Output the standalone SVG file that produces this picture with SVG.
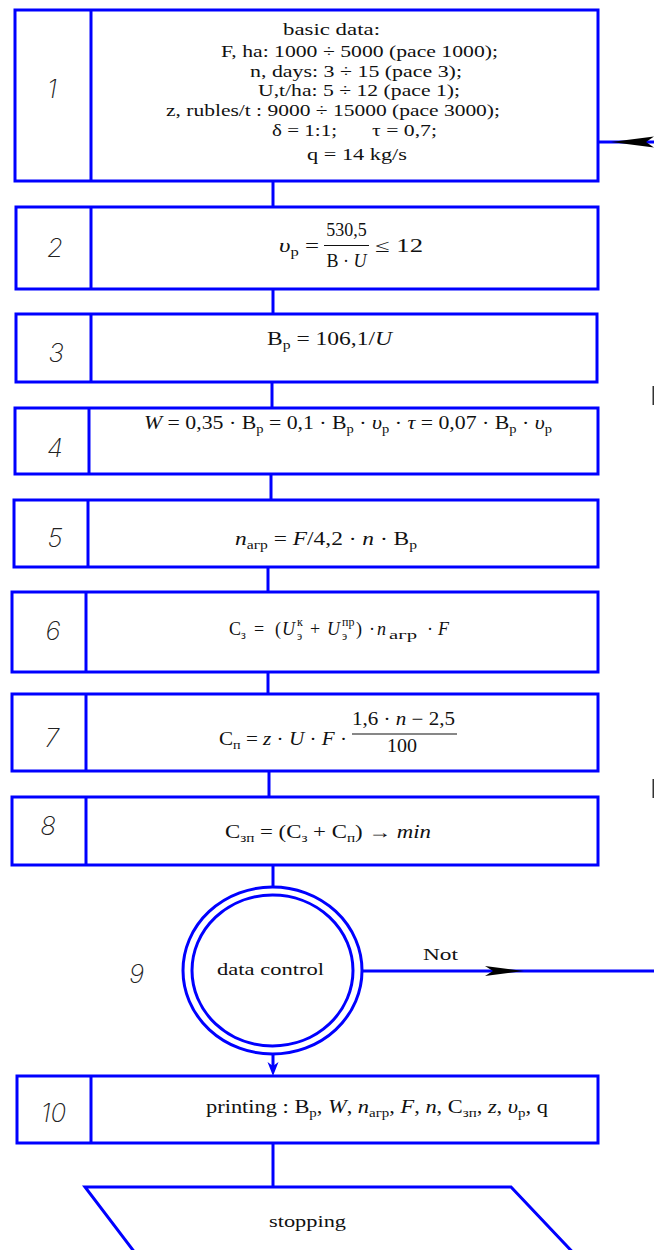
<svg xmlns="http://www.w3.org/2000/svg" width="654" height="1250" viewBox="0 0 654 1250">
<style>
.box{fill:#fff;stroke:#0000ff;stroke-width:3}
.conn{stroke:#0000ff;stroke-width:3;fill:none}
.num{font-family:Inter,"Open Sans","DejaVu Sans",sans-serif;font-style:italic;font-weight:200;font-size:26px;fill:#222;text-anchor:middle}
.t{font-family:"Liberation Serif",serif;font-size:17px;fill:#111}
.m{font-family:"Liberation Serif",serif;font-size:18px;fill:#111}
.i{font-style:italic}
.s{font-size:12px}
.bar{stroke:#111;stroke-width:1.2}
.ah{fill:#000}
</style>
<rect width="654" height="1250" fill="#fff"/>
<g id="connectors">
<line class="conn" x1="273" y1="181" x2="273" y2="207"/>
<line class="conn" x1="273" y1="289" x2="273" y2="314"/>
<line class="conn" x1="272" y1="382" x2="272" y2="408"/>
<line class="conn" x1="271" y1="474" x2="271" y2="500"/>
<line class="conn" x1="268" y1="567" x2="268" y2="592"/>
<line class="conn" x1="268" y1="672" x2="268" y2="694"/>
<line class="conn" x1="269" y1="771" x2="269" y2="797"/>
<line class="conn" x1="273" y1="865" x2="273" y2="887"/>
<line class="conn" x1="273" y1="1054" x2="273" y2="1070"/>
<path d="M273,1076 L267.5,1062 L273,1066 L278.5,1062 Z" fill="#0000ff"/>
<line class="conn" x1="273" y1="1143" x2="273" y2="1187"/>
<line class="conn" x1="362" y1="971" x2="654" y2="971"/>
<path class="ah" d="M524,971 L485,966 L493,971 L485,976 Z"/>
<text x="423" y="960" class="t" font-size="20" textLength="35" lengthAdjust="spacingAndGlyphs">Not</text>
<line class="conn" x1="598" y1="142" x2="654" y2="142"/>
<path class="ah" d="M611,142 L654,136.5 L646,142 L654,147.5 Z"/>
<rect x="652.5" y="386" width="1.5" height="19" fill="#333"/>
<rect x="652.5" y="779" width="1.5" height="19" fill="#333"/>
</g>
<g id="node1">
<rect class="box" x="15" y="10" width="583" height="171"/>
<line class="box" x1="91" y1="10" x2="91" y2="181"/>
<text class="num" x="52" y="98">1</text>
<text class="t" x="283" y="35" textLength="97" lengthAdjust="spacingAndGlyphs">basic data:</text>
<text class="t" x="221" y="57" textLength="277" lengthAdjust="spacingAndGlyphs">F, ha: 1000 ÷ 5000 (pace 1000);</text>
<text class="t" x="250" y="77" textLength="212" lengthAdjust="spacingAndGlyphs">n, days: 3 ÷ 15 (pace 3);</text>
<text class="t" x="258" y="96" textLength="202" lengthAdjust="spacingAndGlyphs">U,t/ha: 5 ÷ 12 (pace 1);</text>
<text class="t" x="166" y="116" textLength="334" lengthAdjust="spacingAndGlyphs">z, rubles/t : 9000 ÷ 15000 (pace 3000);</text>
<text class="t" x="272" y="136" textLength="65" lengthAdjust="spacingAndGlyphs">δ = 1:1;</text>
<text class="t" x="372" y="136" textLength="65" lengthAdjust="spacingAndGlyphs">τ = 0,7;</text>
<text class="t" x="307" y="160" textLength="100" lengthAdjust="spacingAndGlyphs">q = 14 kg/s</text>
</g>
<g id="node2">
<rect class="box" x="16" y="207" width="582" height="82"/>
<line class="box" x1="91" y1="207" x2="91" y2="289"/>
<text class="num" x="55" y="257">2</text>
<text class="m" x="279" y="252" textLength="40" lengthAdjust="spacingAndGlyphs"><tspan class="i">υ</tspan><tspan class="s" dy="4">р</tspan><tspan dy="-4"> =</tspan></text>
<line class="bar" x1="324" y1="245.5" x2="369" y2="245.5"/>
<text class="m" x="346.5" y="236" text-anchor="middle">530,5</text>
<text class="m" x="346.5" y="266.5" text-anchor="middle">В · <tspan class="i">U</tspan></text>
<text class="m" x="375" y="252" textLength="48" lengthAdjust="spacingAndGlyphs">≤ 12</text>
</g>
<g id="node3">
<rect class="box" x="16" y="314" width="581" height="68"/>
<line class="box" x1="91" y1="314" x2="91" y2="382"/>
<text class="num" x="56" y="362">3</text>
<text class="m" x="267" y="344.5" textLength="125" lengthAdjust="spacingAndGlyphs">В<tspan class="s" dy="4">р</tspan><tspan dy="-4"> = 106,1/</tspan><tspan class="i">U</tspan></text>
</g>
<g id="node4">
<rect class="box" x="15" y="408" width="583" height="66"/>
<line class="box" x1="89" y1="408" x2="89" y2="474"/>
<text class="num" x="55" y="457">4</text>
<text class="m" x="144" y="428.5" textLength="408" lengthAdjust="spacingAndGlyphs"><tspan class="i">W</tspan> = 0,35 · В<tspan class="s" dy="4">р</tspan><tspan dy="-4"> = 0,1 · В</tspan><tspan class="s" dy="4">р</tspan><tspan dy="-4"> · </tspan><tspan class="i">υ</tspan><tspan class="s" dy="4">р</tspan><tspan dy="-4"> · </tspan><tspan class="i">τ</tspan> = 0,07 · В<tspan class="s" dy="4">р</tspan><tspan dy="-4"> · </tspan><tspan class="i">υ</tspan><tspan class="s" dy="4">р</tspan></text>
</g>
<g id="node5">
<rect class="box" x="14" y="500" width="584" height="67"/>
<line class="box" x1="88" y1="500" x2="88" y2="567"/>
<text class="num" x="55" y="547">5</text>
<text class="m" x="235" y="545" textLength="182" lengthAdjust="spacingAndGlyphs"><tspan class="i">n</tspan><tspan class="s" dy="4">агр</tspan><tspan dy="-4"> = </tspan><tspan class="i">F</tspan>/4,2 · <tspan class="i">n</tspan> · В<tspan class="s" dy="4">р</tspan></text>
</g>
<g id="node6">
<rect class="box" x="12" y="592" width="586" height="80"/>
<line class="box" x1="86" y1="592" x2="86" y2="672"/>
<text class="num" x="53" y="640">6</text>
<text class="m" y="635"><tspan x="229">С</tspan><tspan class="s" x="241" y="639">з</tspan><tspan x="254" y="635">=</tspan><tspan x="275">(</tspan><tspan class="i" x="282">U</tspan><tspan class="s" x="297" y="640">э</tspan><tspan class="s" x="297" y="626">к</tspan><tspan x="310" y="635">+</tspan><tspan class="i" x="327">U</tspan><tspan class="s" x="342" y="640">э</tspan><tspan class="s" x="342" y="626">пр</tspan><tspan x="356" y="635">)</tspan><tspan x="369">·</tspan><tspan class="i" x="377">n</tspan></text>
<text class="m" x="389" y="639" style="font-size:13px" textLength="28" lengthAdjust="spacingAndGlyphs">агр</text>
<text class="m" y="635"><tspan x="427">·</tspan><tspan class="i" x="438">F</tspan></text>
</g>
<g id="node7">
<rect class="box" x="12" y="694" width="586" height="77"/>
<line class="box" x1="86" y1="694" x2="86" y2="771"/>
<text class="num" x="52" y="747">7</text>
<text class="m" x="219" y="745" textLength="128" lengthAdjust="spacingAndGlyphs">С<tspan class="s" dy="4">п</tspan><tspan dy="-4"> = </tspan><tspan class="i">z</tspan> · <tspan class="i">U</tspan> · <tspan class="i">F</tspan> ·</text>
<line class="bar" x1="352" y1="734" x2="457" y2="734"/>
<text class="m" x="352" y="725" textLength="103" lengthAdjust="spacingAndGlyphs">1,6 · <tspan class="i">n</tspan> − 2,5</text>
<text class="m" x="387" y="752" textLength="30" lengthAdjust="spacingAndGlyphs">100</text>
</g>
<g id="node8">
<rect class="box" x="12" y="797" width="586" height="68"/>
<line class="box" x1="86" y1="797" x2="86" y2="865"/>
<text class="num" x="48" y="835">8</text>
<text class="m" x="225" y="838" textLength="206" lengthAdjust="spacingAndGlyphs">С<tspan class="s" dy="4">зп</tspan><tspan dy="-4"> = (С</tspan><tspan class="s" dy="4">з</tspan><tspan dy="-4"> + С</tspan><tspan class="s" dy="4">п</tspan><tspan dy="-4">) → </tspan><tspan class="i">min</tspan></text>
</g>
<g id="node9">
<ellipse class="box" cx="272.5" cy="970.5" rx="89.5" ry="83.5"/>
<ellipse class="box" cx="272.5" cy="970.5" rx="80.5" ry="75.5"/>
<text class="num" x="136.5" y="983">9</text>
<text class="t" x="217" y="975" font-size="20" textLength="107" lengthAdjust="spacingAndGlyphs">data control</text>
</g>
<g id="node10">
<rect class="box" x="17" y="1076" width="581" height="67"/>
<line class="box" x1="91" y1="1076" x2="91" y2="1143"/>
<text class="num" x="53.5" y="1122">10</text>
<text class="m" x="206" y="1113" textLength="342" lengthAdjust="spacingAndGlyphs">printing : В<tspan class="s" dy="4">р</tspan><tspan dy="-4">, </tspan><tspan class="i">W</tspan>, <tspan class="i">n</tspan><tspan class="s" dy="4">агр</tspan><tspan dy="-4">, </tspan><tspan class="i">F</tspan>, <tspan class="i">n</tspan>, С<tspan class="s" dy="4">зп</tspan><tspan dy="-4">, </tspan><tspan class="i">z</tspan>, <tspan class="i">υ</tspan><tspan class="s" dy="4">р</tspan><tspan dy="-4">, q</tspan></text>
</g>
<g id="node11">
<polygon class="box" points="85,1187 511,1187 582,1262 142,1262"/>
<text class="t" x="269" y="1227" font-size="20" textLength="77" lengthAdjust="spacingAndGlyphs">stopping</text>
</g>
</svg>
